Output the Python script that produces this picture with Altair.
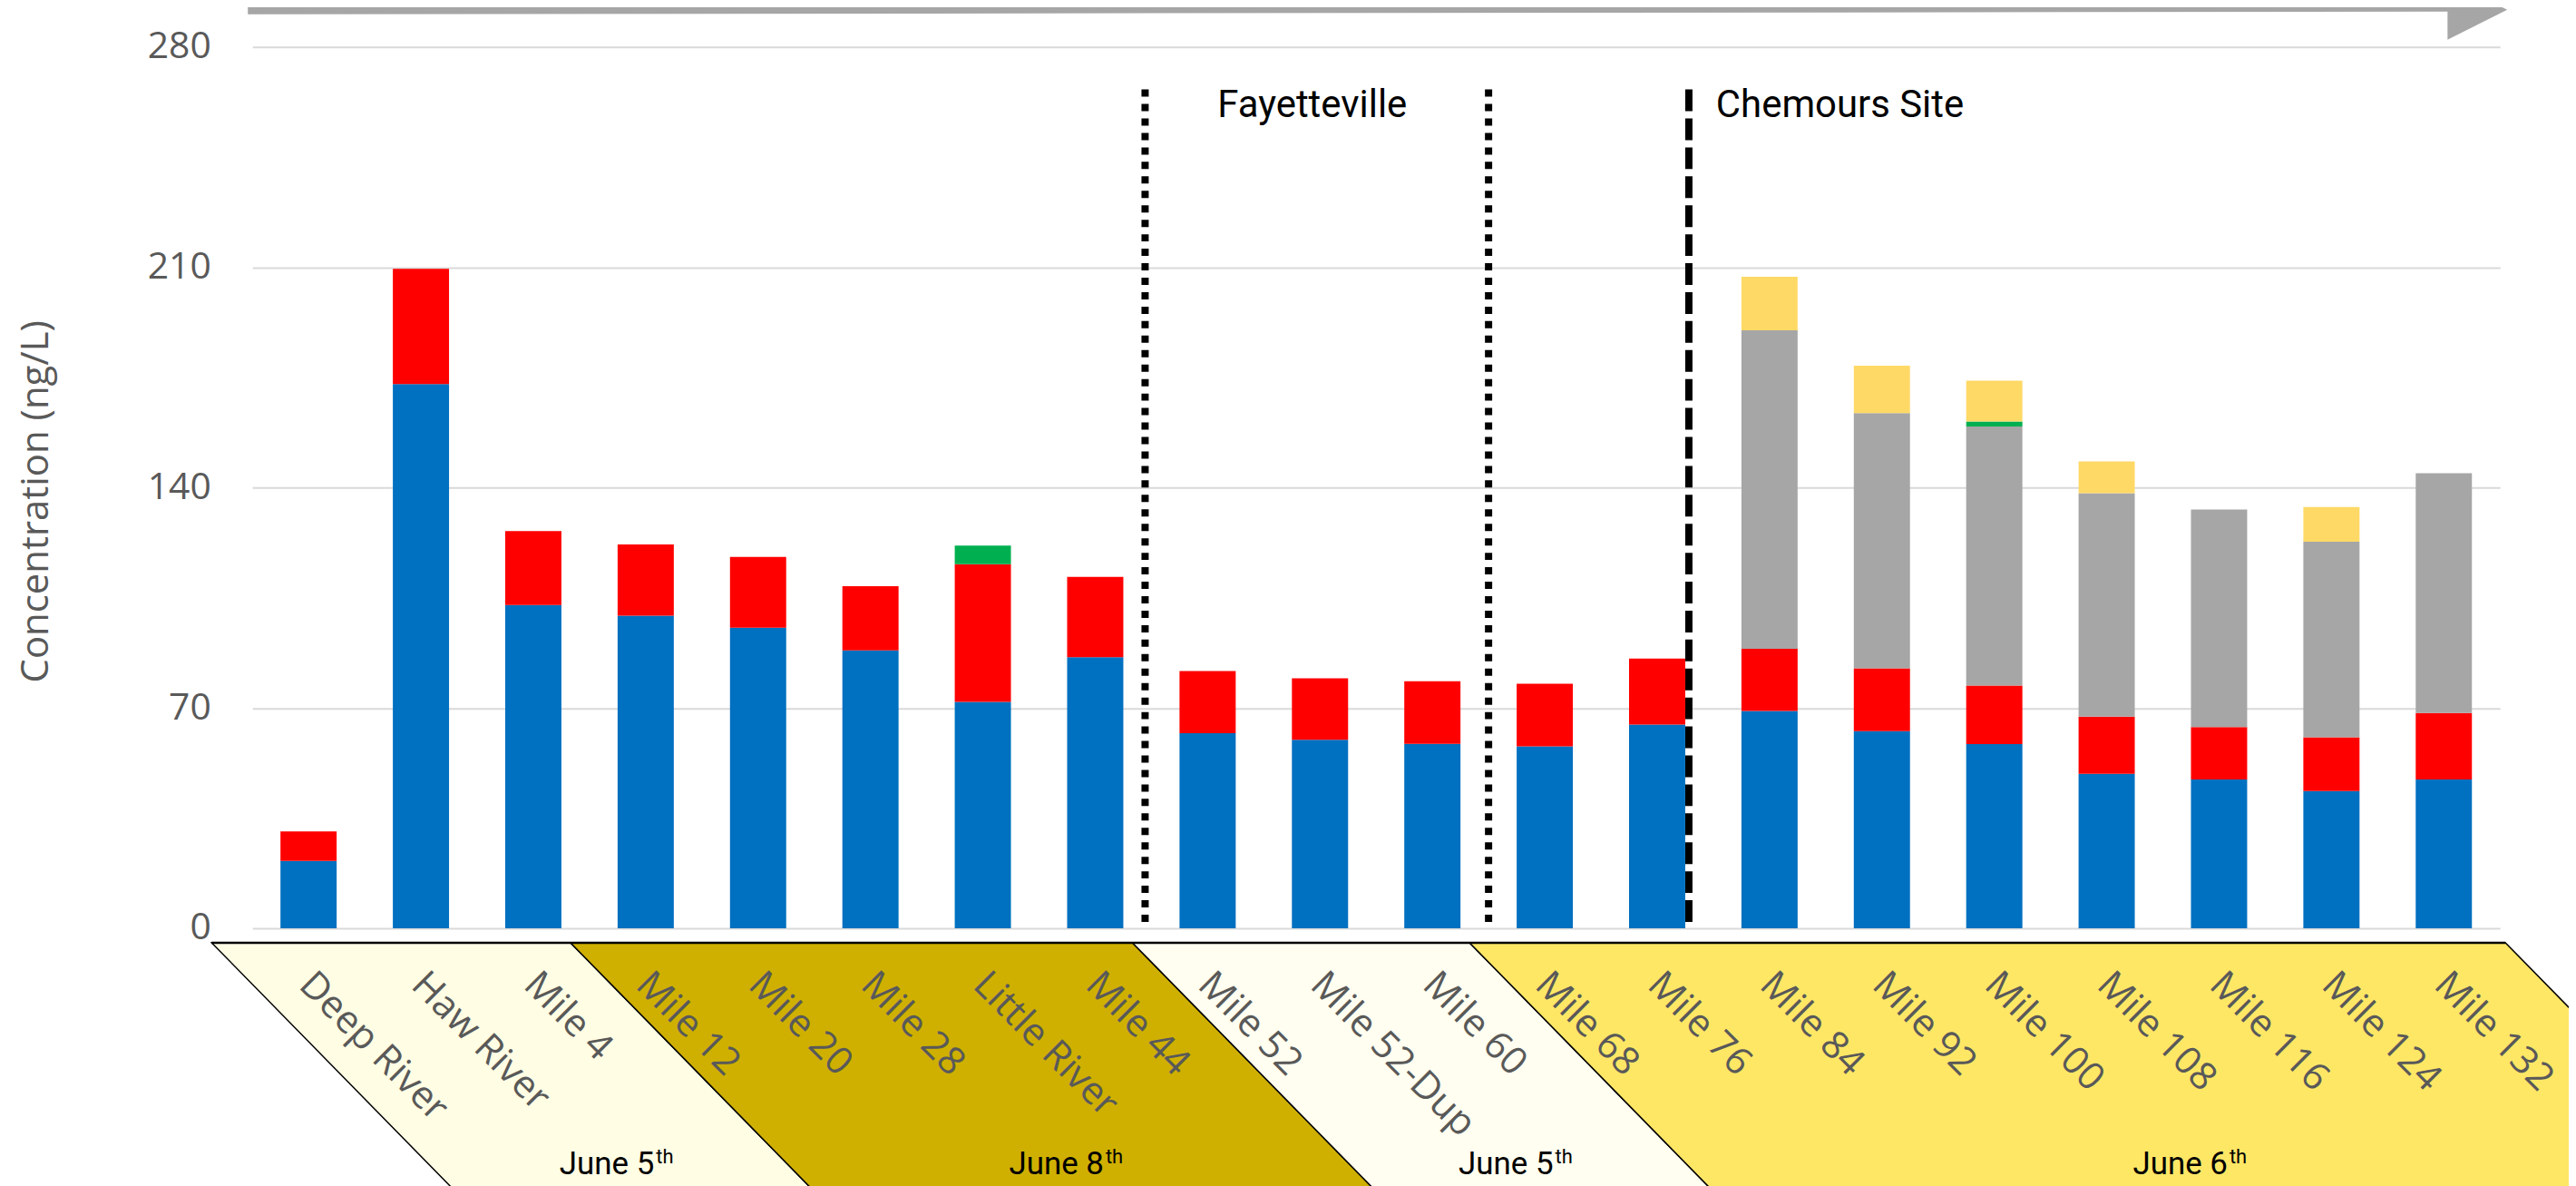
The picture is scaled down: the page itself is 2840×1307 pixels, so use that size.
import altair as alt
import pandas as pd

# ---------------- data ----------------
categories = ["Deep River", "Haw River", "Mile 4", "Mile 12", "Mile 20", "Mile 28",
              "Little River", "Mile 44", "Mile 52", "Mile 52-Dup", "Mile 60", "Mile 68",
              "Mile 76", "Mile 84", "Mile 92", "Mile 100", "Mile 108", "Mile 116",
              "Mile 124", "Mile 132"]
series_names = ["Compound A", "Compound B", "Compound C", "Compound D", "Compound E"]
blue_vals = [21.4, 172.9, 102.7, 99.3, 95.5, 88.3, 71.9, 86.1, 62.0, 59.9, 58.6, 57.8,
             64.7, 69.0, 62.6, 58.5, 49.1, 47.3, 43.6, 47.3]
red_vals = [9.4, 36.6, 23.5, 22.6, 22.5, 20.4, 43.8, 25.5, 19.7, 19.5, 19.9, 19.9,
            21.0, 19.8, 20.0, 18.6, 18.1, 16.6, 17.1, 21.1]
gray_vals = [0, 0, 0, 0, 0, 0, 0, 0, 0, 0, 0, 0,
             0, 101.2, 81.1, 82.3, 71.0, 69.1, 62.1, 76.2]
green_vals = [0, 0, 0, 0, 0, 0, 5.9, 0, 0, 0, 0, 0,
              0, 0, 0, 1.6, 0, 0, 0, 0]
yellow_vals = [0, 0, 0, 0, 0, 0, 0, 0, 0, 0, 0, 0,
               0, 17.0, 15.0, 13.0, 10.1, 0, 11.0, 0]
y_ticks = [0, 70, 140, 210, 280]

date_labels = ["June 5", "June 8", "June 5", "June 6"]
date_first = [0, 3, 8, 11]
date_last = [2, 7, 10, 19]
region_labels = ["Fayetteville", "Chemours Site"]

# ---------------- styles / layout ----------------
series_colors = ["#0070C0", "#FF0000", "#A6A6A6", "#00B050", "#FFD966"]
band_colors = ["#FFFDE4", "#CFB000", "#FFFEF0", "#FFE766"]
LABEL_GRAY = "#595959"
FONT = "Open Sans, Noto Sans, DejaVu Sans, sans-serif"
FONT2 = "Roboto, Lato, Liberation Sans, sans-serif"

X0, Y0 = 279, 50          # plot origin on the page
W, H = 2485, 974          # plot size
SVG_W, SVG_H = 2832, 1299
STEP = W / len(categories)
BANDW = STEP * 0.5
BAND_TOP = 1040
SLOPE = 1.02
BAND_SHIFT = -21


def boundary(k):
    return X0 + k * STEP


def center(k):
    return X0 + (k + 0.5) * STEP


# ---------------- bars ----------------
rows = []
for i, c in enumerate(categories):
    for s, (name, vals) in enumerate(zip(series_names,
                                         [blue_vals, red_vals, gray_vals, green_vals, yellow_vals])):
        if vals[i] > 0:
            rows.append({"site": c, "series": name, "value": vals[i], "order": s})
df = pd.DataFrame(rows)

bars = alt.Chart(df).mark_bar().encode(
    x=alt.X("site:N", sort=categories,
            scale=alt.Scale(paddingInner=0.5, paddingOuter=0.25),
            axis=alt.Axis(title=None, labelAngle=45, labelAlign="left", labelBaseline="top",
                          labelFont=FONT, labelFontSize=42, labelColor=LABEL_GRAY,
                          labelPadding=41, labelOffset=11, labelLimit=500,
                          labelOverlap=False, ticks=False, tickSize=0, domain=False,
                          grid=False, zindex=2)),
    y=alt.Y("value:Q", stack="zero",
            scale=alt.Scale(domain=[0, 280], nice=False),
            axis=alt.Axis(values=y_ticks, title="Concentration (ng/L)",
                          labelFont=FONT, labelFontSize=41, labelColor=LABEL_GRAY,
                          labelPadding=46, ticks=False, tickSize=0, domain=False,
                          grid=True, gridColor="#D9D9D9", gridWidth=2,
                          titleFont=FONT, titleFontSize=42, titleFontWeight="normal",
                          titleColor=LABEL_GRAY, titleAngle=270, titleAlign="center",
                          titleBaseline="alphabetic", titleX=53 - X0, titleY=552 - Y0)),
    color=alt.Color("series:N", scale=alt.Scale(domain=series_names, range=series_colors),
                    legend=None),
    order=alt.Order("order:Q"),
)

# ---------------- decorations (page-pixel scales) ----------------
px = alt.Scale(domain=[X0, X0 + W], nice=False, zero=False)
py = alt.Scale(domain=[Y0, Y0 + H], nice=False, zero=False, reverse=True)

band_rows = []
BOTTOM = 1360
for g, (f, l) in enumerate(zip(date_first, date_last)):
    xl = boundary(f) + (BAND_SHIFT if g > 0 else -45)
    xr = boundary(l + 1) + (BAND_SHIFT if g < len(date_first) - 1 else 6)
    dx = (BOTTOM - BAND_TOP) / SLOPE
    band_rows.append({"grp": g, "y": BAND_TOP, "xl": xl, "xr": xr})
    band_rows.append({"grp": g, "y": BOTTOM, "xl": xl + dx, "xr": xr + dx})
band_df = pd.DataFrame(band_rows)

bands = alt.Chart(band_df).mark_area(orient="horizontal", stroke="black", strokeWidth=1.5,
                                     opacity=1).encode(
    y=alt.Y("y:Q", scale=py, axis=None),
    x=alt.X("xl:Q", scale=px, axis=None),
    x2="xr:Q",
    color=alt.Color("grp:N", scale=alt.Scale(domain=list(range(4)), range=band_colors),
                    legend=None),
    detail="grp:N",
)

top_line = alt.Chart(pd.DataFrame([{
    "x": band_df["xl"].iloc[0], "x2": band_df["xr"].iloc[-2], "y": BAND_TOP}])).mark_rule(
    color="black", strokeWidth=2.5).encode(
    x=alt.X("x:Q", scale=px, axis=None), x2="x2:Q", y=alt.Y("y:Q", scale=py, axis=None))

dotted_df = pd.DataFrame([{"x": boundary(8) - 7, "y": 97, "y2": 1019},
                          {"x": boundary(11), "y": 97, "y2": 1019}])
dotted = alt.Chart(dotted_df).mark_rule(color="black", strokeWidth=8, strokeDash=[8, 8],
                                        strokeCap="butt").encode(
    x=alt.X("x:Q", scale=px, axis=None), y=alt.Y("y:Q", scale=py, axis=None), y2="y2:Q")

dashed_x = center(12) + BANDW / 2 + 4
dashed_df = pd.DataFrame([{"x": dashed_x, "y": 97, "y2": 1024}])
dashed = alt.Chart(dashed_df).mark_rule(color="black", strokeWidth=8, strokeDash=[24, 8],
                                        strokeCap="butt").encode(
    x=alt.X("x:Q", scale=px, axis=None), y=alt.Y("y:Q", scale=py, axis=None), y2="y2:Q")

region_df = pd.DataFrame([{"t": region_labels[0], "x": boundary(8) - 7 + 80, "y": 128},
                          {"t": region_labels[1], "x": dashed_x + 30, "y": 128}])
regions = alt.Chart(region_df).mark_text(align="left", baseline="alphabetic", font=FONT2,
                                         fontSize=42, color="black").encode(
    x=alt.X("x:Q", scale=px, axis=None), y=alt.Y("y:Q", scale=py, axis=None), text="t:N")

date_rows = []
for lab, f, l in zip(date_labels, date_first, date_last):
    cx = X0 + (f + l + 1) / 2 * STEP
    split = cx + 258
    date_rows.append({"t": lab, "sup": "th", "x": split, "y": 1296, "y_sup": 1284})
date_df = pd.DataFrame(date_rows)
dates_main = alt.Chart(date_df).mark_text(align="right", baseline="alphabetic", font=FONT2,
                                          fontSize=35, color="black").encode(
    x=alt.X("x:Q", scale=px, axis=None), y=alt.Y("y:Q", scale=py, axis=None), text="t:N")
dates_sup = alt.Chart(date_df).mark_text(align="left", baseline="alphabetic", font=FONT2,
                                         fontSize=22, color="black", dx=2).encode(
    x=alt.X("x:Q", scale=px, axis=None), y=alt.Y("y_sup:Q", scale=py, axis=None),
    text="sup:N")

ARROW_GRAY = "#A6A6A6"
shaft = alt.Chart(pd.DataFrame([{"x": X0 - 5, "x2": 2712, "y": 10, "y2": 7}])).mark_rule(
    color=ARROW_GRAY, strokeWidth=8).encode(
    x=alt.X("x:Q", scale=px, axis=None), x2="x2:Q",
    y=alt.Y("y:Q", scale=py, axis=None), y2="y2:Q")
head = alt.Chart(pd.DataFrame([{"x": 2706, "y": -24, "y2": 42},
                               {"x": 2772, "y": 9, "y2": 9}])).mark_area(
    color=ARROW_GRAY, orient="vertical").encode(
    x=alt.X("x:Q", scale=px, axis=None),
    y=alt.Y("y:Q", scale=py, axis=None), y2="y2:Q")

deco = alt.layer(bands, top_line, dotted, dashed, regions, dates_main, dates_sup, shaft, head)

chart = alt.layer(deco, bars).resolve_scale(
    x="independent", y="independent", color="independent"
).properties(
    width=W, height=H,
    padding={"left": X0 - 8, "top": Y0 - 8, "right": SVG_W - (X0 - 8) - W,
             "bottom": SVG_H - (Y0 - 8) - H},
    autosize=alt.AutoSizeParams(type="none"),
    background="white",
).configure_view(strokeWidth=0)

chart.save("out.html", embed_options={"renderer": "svg", "actions": False})
